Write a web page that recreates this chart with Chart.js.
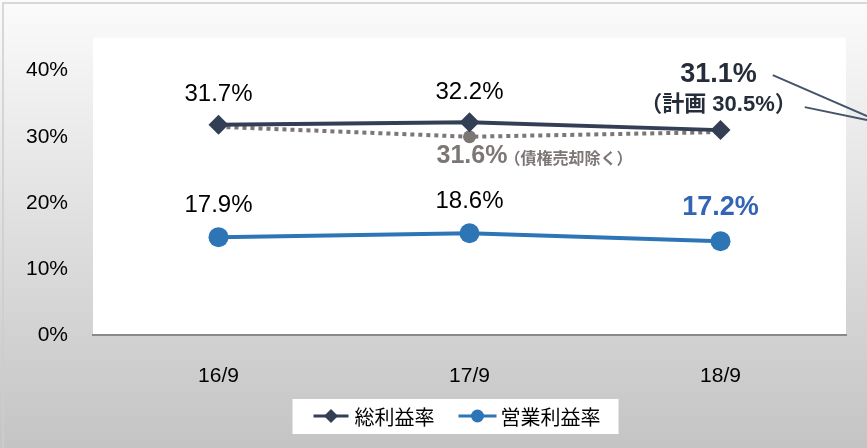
<!DOCTYPE html>
<html>
<head>
<meta charset="utf-8">
<script src="https://cdn.jsdelivr.net/npm/chart.js@4.4.1/dist/chart.umd.min.js"></script>
<style>
html, body { margin: 0; padding: 0; background: #fff; }
canvas { display: block; }
</style>
</head>
<body>
<canvas id="marginChart" width="867" height="448"></canvas>
<script>
// data (point positions) and the printed labels
const periods = ['16/9', '17/9', '18/9'];
const grossMargin = [31.8, 32.2, 31.0];
const grossExSale = [31.5, 30.0, 30.7];
const opMargin = [14.8, 15.4, 14.2];
const grossText = ['31.7%', '32.2%', '31.1%'];
const opText = ['17.9%', '18.6%', '17.2%'];
const exSaleText = '31.6%';
const exSaleNote = '（債権売却除く）';
const planText = '（計画 30.5%）';
const yTicks = [0, 10, 20, 30, 40];
const seriesNames = ['総利益率', '営業利益率'];

const NAVY = '#333f55';
const BLUE = '#2e75b6';
const GRAY = '#7c7675';
const LATIN = '"Liberation Sans", Arial, sans-serif';
const CJK = '"Noto Sans CJK JP", "Liberation Sans", sans-serif';
const MIXED = '"Liberation Sans", "Noto Sans CJK JP", sans-serif';

// background, frame and white plot area
const frame = {
    id: 'frame',
    beforeDraw(chart) {
        const { ctx, width, height, chartArea: a } = chart;
        ctx.save();
        const g = ctx.createLinearGradient(0, 0, 0, height);
        g.addColorStop(0, '#fbfbfb');
        g.addColorStop(1, '#c4c4c4');
        ctx.fillStyle = g;
        ctx.fillRect(0, 0, width, height);
        ctx.strokeStyle = '#cdcdcd';
        ctx.lineWidth = 1.5;
        ctx.beginPath();
        ctx.moveTo(3, height);
        ctx.lineTo(3, 3);
        ctx.lineTo(width, 3);
        ctx.stroke();
        ctx.fillStyle = '#ffffff';
        ctx.fillRect(a.left, a.top, a.right - a.left, a.bottom - a.top);
        ctx.restore();
    }
};

// data labels, notes and the legend
const labels = {
    id: 'labels',
    afterDatasetsDraw(chart) {
        const { ctx, width } = chart;
        const x = chart.scales.x, y = chart.scales.y;
        ctx.save();
        ctx.textAlign = 'center';
        ctx.textBaseline = 'middle';

        // 総利益率
        ctx.fillStyle = '#000';
        ctx.font = '24px ' + LATIN;
        for (let i = 0; i < 2; i++) {
            ctx.fillText(grossText[i], x.getPixelForValue(i), y.getPixelForValue(grossMargin[i]) - 30);
        }
        const px = x.getPixelForValue(2) - 2;
        const py = y.getPixelForValue(grossMargin[2]);
        ctx.fillStyle = '#262d3a';
        ctx.font = 'bold 27px ' + LATIN;
        ctx.fillText(grossText[2], px, py - 56);
        const w1 = ctx.measureText(grossText[2]).width;
        ctx.font = 'bold 22px ' + MIXED;
        ctx.fillText(planText, px, py - 25);
        const w2 = ctx.measureText(planText).width;

        // leader lines to the right edge
        ctx.strokeStyle = '#44546a';
        ctx.lineWidth = 2;
        ctx.beginPath();
        ctx.moveTo(px + w1 / 2 + 16, py - 55);
        ctx.lineTo(width, py - 14);
        ctx.moveTo(px + w2 / 2 + 8, py - 23);
        ctx.lineTo(width, py - 10);
        ctx.stroke();

        // 債権売却除く
        const gx = x.getPixelForValue(1) - 33;
        const gy = y.getPixelForValue(grossExSale[1]) + 19;
        ctx.textAlign = 'left';
        ctx.fillStyle = GRAY;
        ctx.font = 'bold 25px ' + LATIN;
        ctx.fillText(exSaleText, gx, gy);
        const w3 = ctx.measureText(exSaleText).width;
        ctx.font = 'bold 16px ' + CJK;
        ctx.fillText(exSaleNote, gx + w3 - 3, gy + 2);

        // 営業利益率
        ctx.textAlign = 'center';
        ctx.fillStyle = '#000';
        ctx.font = '24px ' + LATIN;
        for (let i = 0; i < 2; i++) {
            ctx.fillText(opText[i], x.getPixelForValue(i), y.getPixelForValue(opMargin[i]) - 32);
        }
        ctx.fillStyle = '#3464b4';
        ctx.font = 'bold 27px ' + LATIN;
        ctx.fillText(opText[2], x.getPixelForValue(2), y.getPixelForValue(opMargin[2]) - 34);

        // legend
        ctx.font = '20px ' + CJK;
        const t0 = ctx.measureText(seriesNames[0]).width;
        const t1 = ctx.measureText(seriesNames[1]).width;
        const total = 35 + 6 + t0 + 24 + 38 + 4 + t1;
        let lx = 457 - total / 2;
        const ly = 416;
        ctx.fillStyle = '#ffffff';
        ctx.fillRect(lx - 21, ly - 17, total + 39, 35);
        ctx.lineWidth = 3;
        ctx.strokeStyle = NAVY;
        ctx.beginPath();
        ctx.moveTo(lx, ly);
        ctx.lineTo(lx + 35, ly);
        ctx.stroke();
        ctx.fillStyle = NAVY;
        ctx.beginPath();
        ctx.moveTo(lx + 17.5 - 7, ly);
        ctx.lineTo(lx + 17.5, ly - 7);
        ctx.lineTo(lx + 17.5 + 7, ly);
        ctx.lineTo(lx + 17.5, ly + 7);
        ctx.closePath();
        ctx.fill();
        ctx.fillStyle = '#000';
        ctx.textAlign = 'left';
        ctx.fillText(seriesNames[0], lx + 41, ly + 1);
        lx += 41 + t0 + 24;
        ctx.strokeStyle = BLUE;
        ctx.beginPath();
        ctx.moveTo(lx, ly);
        ctx.lineTo(lx + 38, ly);
        ctx.stroke();
        ctx.fillStyle = BLUE;
        ctx.beginPath();
        ctx.arc(lx + 19, ly, 6.5, 0, Math.PI * 2);
        ctx.fill();
        ctx.fillStyle = '#000';
        ctx.fillText(seriesNames[1], lx + 42, ly + 1);
        ctx.restore();
    }
};

const ctx = document.getElementById('marginChart').getContext('2d');
const marginChart = new Chart(ctx, {
    type: 'line',
    data: {
        labels: periods,
        datasets: [{
            label: seriesNames[0],
            data: grossMargin,
            borderColor: NAVY,
            backgroundColor: NAVY,
            borderWidth: 4,
            pointStyle: 'rectRot',
            pointRadius: 10,
            pointBorderWidth: 0,
            order: 0
        }, {
            label: seriesNames[1],
            data: opMargin,
            borderColor: BLUE,
            backgroundColor: BLUE,
            borderWidth: 4,
            pointStyle: 'circle',
            pointRadius: 10,
            pointBorderWidth: 0,
            order: 1
        }, {
            label: exSaleNote,
            data: grossExSale,
            borderColor: GRAY,
            backgroundColor: GRAY,
            borderWidth: 4,
            borderDash: [4, 4],
            borderCapStyle: 'butt',
            pointRadius: [0, 6.5, 0],
            pointBorderWidth: 0,
            order: 2
        }]
    },
    options: {
        responsive: false,
        animation: false,
        layout: { padding: { top: 30, right: 21, bottom: 0, left: 0 } },
        plugins: {
            legend: { display: false },
            tooltip: { enabled: false }
        },
        scales: {
            x: {
                offset: true,
                grid: { display: false, drawTicks: false },
                border: { display: true, color: '#898989', width: 2 },
                ticks: { color: '#000', padding: 29, font: { family: LATIN, size: 21 } },
                afterFit(scale) { scale.height = 113; }
            },
            y: {
                min: 0,
                max: 45,
                grid: { display: false, drawTicks: false },
                border: { display: false },
                afterBuildTicks(scale) { scale.ticks = yTicks.map(v => ({ value: v })); },
                ticks: {
                    color: '#000',
                    padding: 25,
                    font: { family: LATIN, size: 21 },
                    callback: v => v + '%'
                },
                afterFit(scale) { scale.width = 93; }
            }
        }
    },
    plugins: [frame, labels]
});
</script>
</body>
</html>
